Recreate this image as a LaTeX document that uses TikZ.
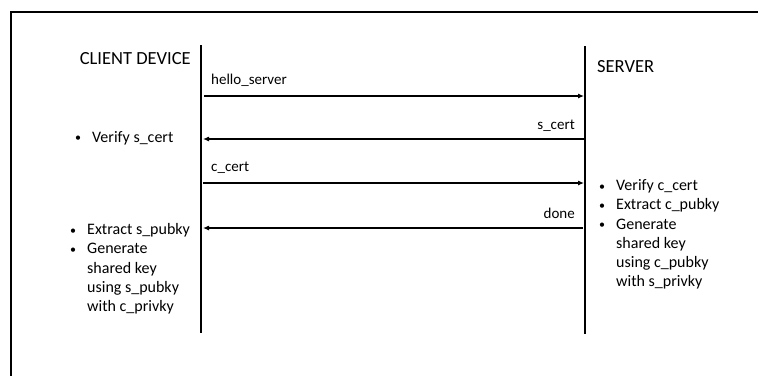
\documentclass[tikz,border=0pt]{standalone}
\usepackage{fontspec}
\setmainfont{Carlito}
\usetikzlibrary{arrows.meta,positioning}

\tikzset{
  lifeline/.style={line width=1.3pt},
  msg/.style={line width=1.1pt, -{Latex[length=6pt,width=5pt]}},
  head/.style={font=\fontsize{18.5}{21}\selectfont, inner sep=0pt},
  lbl/.style={font=\fontsize{15}{18}\selectfont, inner sep=0pt},
  notes/.style={font=\fontsize{16}{19.2}\selectfont, inner sep=0pt, anchor=west}
}
\newcommand{\bul}{\makebox[17pt][l]{\raisebox{0.5pt}{\scalebox{0.75}{\textbullet}}}}
\newcommand{\ind}{\hspace{17pt}}

\begin{document}
\begin{tikzpicture}[x=1pt,y=-1pt]
    \useasboundingbox (0,0) rectangle (758,375);
    % outer frame, cut off at right and bottom
    \begin{scope}
      \clip (0,0) rectangle (758,375);
      \draw[line width=1.2pt] (11,380) -- (11,12) -- (765,12);
    \end{scope}

    % lifelines
    \coordinate (ctop) at (201,45);
    \coordinate (cbot) at (201,333);
    \coordinate (stop) at (585,46);
    \coordinate (sbot) at (585,334);
    \draw[lifeline] (ctop) -- (cbot);
    \draw[lifeline] (stop) -- (sbot);

    % participants
    \node[head, anchor=east] (client) at (191,59) {CLIENT DEVICE};
    \node[head, anchor=west] (server) at (597,67) {SERVER};

    % messages
    \coordinate (m1a) at (204,96);  \coordinate (m1b) at (584,96);
    \coordinate (m2a) at (584,139); \coordinate (m2b) at (203,139);
    \coordinate (m3a) at (203,183); \coordinate (m3b) at (584,183);
    \coordinate (m4a) at (583,228); \coordinate (m4b) at (203,228);
    \draw[msg] (m1a) -- (m1b);
    \draw[msg] (m2a) -- (m2b);
    \draw[msg] (m3a) -- (m3b);
    \draw[msg] (m4a) -- (m4b);
    \node[lbl, anchor=west] (hello) at (211,80) {hello\_server};
    \node[lbl, anchor=east] (scert) at (575,126) {s\_cert};
    \node[lbl, anchor=west] (ccert) at (211,168) {c\_cert};
    \node[lbl, anchor=east] (done) at (575,213) {done};

    % client steps
    \node[notes] (verifys) at (75,138) {\bul Verify s\_cert};
    \node[notes, anchor=north west] (clientkey) at (70,221) {\begin{tabular}{@{}l@{}}
      \bul Extract s\_pubky\\
      \bul Generate\\
      \ind shared key\\
      \ind using s\_pubky\\
      \ind with c\_privky
    \end{tabular}};

    % server steps
    \node[notes, anchor=north west] (serverkey) at (599,177) {\begin{tabular}{@{}l@{}}
      \bul Verify c\_cert\\
      \bul Extract c\_pubky\\
      \bul Generate\\
      \ind shared key\\
      \ind using c\_pubky\\
      \ind with s\_privky
    \end{tabular}};
\end{tikzpicture}
\end{document}
